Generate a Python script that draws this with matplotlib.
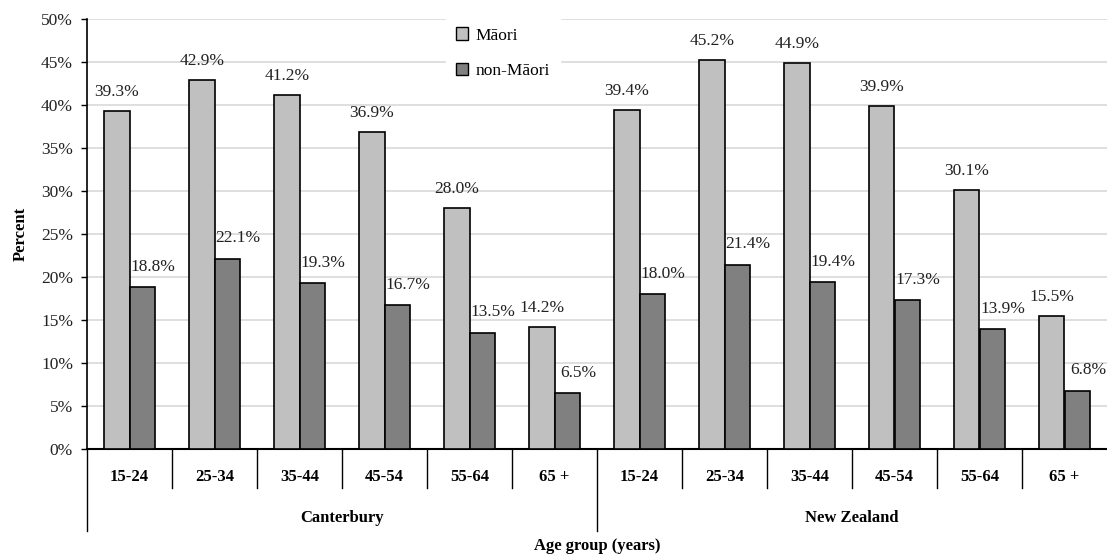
import numpy as np
import matplotlib.pyplot as plt
from matplotlib.patches import Patch
import matplotlib.transforms as mtransforms

plt.rcParams["font.family"] = ["Liberation Serif", "DejaVu Serif"]

# ------------ data -----------------------------------------
regions = ["Canterbury", "New Zealand"]
age_groups = ["15-24", "25-34", "35-44", "45-54", "55-64", "65 +"]
maori = [39.3, 42.9, 41.2, 36.9, 28.0, 14.2, 39.4, 45.2, 44.9, 39.9, 30.1, 15.5]
non_maori = [18.8, 22.1, 19.3, 16.7, 13.5, 6.5, 18.0, 21.4, 19.4, 17.3, 13.9, 6.8]
yticks = np.arange(0, 51, 5)

# ------------ plot -----------------------------------------
fig = plt.figure(figsize=(11.07, 5.56), dpi=100)
ax = fig.add_axes([87 / 1107, 1 - 449 / 556, 1 - 87 / 1107, 430 / 556])

n = len(maori)
x = np.arange(n)
w = 0.295
ax.bar(x - w / 2, maori, w, color="#c0c0c0", edgecolor="black", linewidth=1.2,
       label="M\u0101ori", zorder=3)
ax.bar(x + w / 2, non_maori, w, color="#808080", edgecolor="black", linewidth=1.2,
       label="non-M\u0101ori", zorder=3)

for xi, v in zip(x, maori):
    ax.annotate(f"{v:.1f}%", (xi - w / 2, v), xytext=(0, 8), textcoords="offset points",
                ha="center", va="bottom", fontsize=12.5, color="#222222",
                annotation_clip=False)
for xi, v in zip(x, non_maori):
    ax.annotate(f"{v:.1f}%", (xi + w / 2, v), xytext=(8, 9), textcoords="offset points",
                ha="center", va="bottom", fontsize=12.5, color="#222222",
                annotation_clip=False)

ax.set_xlim(-0.5, n - 0.5)
ax.set_ylim(0, 50)
ax.set_yticks(yticks)
ax.set_yticklabels([f"{t}%" for t in yticks], fontsize=12.5, color="#222222")
ax.tick_params(axis="y", length=4, width=1, pad=6)
ax.set_xticks([])
ax.grid(axis="y", color="#d9d9d9", linewidth=1.2, zorder=0)
for s in ["top", "right"]:
    ax.spines[s].set_visible(False)
ax.spines["left"].set_linewidth(1.2)
ax.spines["bottom"].set_linewidth(1.5)
ax.set_ylabel("Percent", fontsize=12, fontweight="bold", labelpad=9)

# category axis below
trans = mtransforms.blended_transform_factory(ax.transData, ax.transAxes)
for i in range(n):
    ax.text(i, -0.066, age_groups[i % 6], transform=trans, ha="center", va="center",
            fontsize=12, fontweight="bold")
for b in range(1, n):
    if b % 6 == 0:
        continue
    ax.plot([b - 0.5, b - 0.5], [0, -0.09], transform=trans, color="black",
            linewidth=1, clip_on=False)
for b in [-0.5, 5.5]:
    ax.plot([b, b], [0, -0.19], transform=trans, color="black",
            linewidth=1, clip_on=False)
for k, r in enumerate(regions):
    ax.text(6 * k + 2.5, -0.161, r, transform=trans, ha="center", va="center",
            fontsize=12, fontweight="bold")
ax.text(5.5, -0.225, "Age group (years)", transform=trans, ha="center", va="center",
        fontsize=12, fontweight="bold")

handles = [Patch(facecolor="#c0c0c0", edgecolor="black"),
           Patch(facecolor="#808080", edgecolor="black")]
leg = ax.legend(handles, ["M\u0101ori", "non-M\u0101ori"], loc="upper left",
                bbox_to_anchor=(350 / 1020, 1.025), frameon=True, fontsize=12.5,
                handlelength=0.7, handleheight=0.7, handletextpad=0.4,
                labelspacing=1.1, borderpad=0.6, fancybox=False)
leg.get_frame().set_edgecolor("white")
leg.get_frame().set_facecolor("white")
leg.get_frame().set_alpha(1)
leg.set_zorder(5)

fig.savefig("out.png", dpi=100)
